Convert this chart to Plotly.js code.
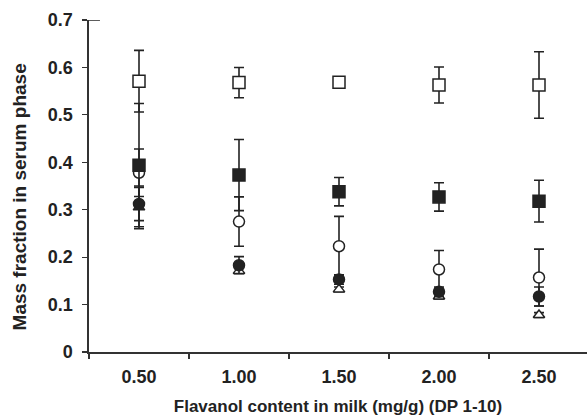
<!DOCTYPE html>
<html>
<head>
<meta charset="utf-8">
<script src="https://cdn.plot.ly/plotly-3.0.1.min.js"></script>
<style>html,body{margin:0;padding:0;background:#fff;}#chart{width:587px;height:418px;}</style>
</head>
<body>
<div id="chart"></div>
<script>
const categories = ['0.50', '1.00', '1.50', '2.00', '2.50'];

const openSquare   = [0.571, 0.568, 0.569, 0.563, 0.563];
const openSquareErr = [0.065, 0.032, 0.0, 0.038, 0.07];

const filledSquare = [0.394, 0.373, 0.338, 0.327, 0.318];
const filledSquareErr = [0.13, 0.075, 0.03, 0.03, 0.044];

const openCircle   = [0.378, 0.275, 0.223, 0.174, 0.157];
const openCircleErr = [0.05, 0.052, 0.063, 0.04, 0.06];

const filledCircle = [0.312, 0.183, 0.153, 0.127, 0.117];
const filledCircleErr = [0.035, 0.018, 0.01, 0.01, 0.02];

const openTriangle = [0.305, 0.171, 0.132, 0.117, 0.078];
const openTriangleErr = [0.045, 0.005, 0.005, 0.005, 0.005];

const xTitle = 'Flavanol content in milk (mg/g) (DP 1-10)';
const yTitle = 'Mass fraction in serum phase';

const ink = '#222222';

function series(y, err, symbol, fill, size) {
  return {
    type: 'scatter', mode: 'markers', x: categories, y: y,
    error_y: {type: 'data', array: err, visible: true, color: ink, thickness: 1.6, width: 5},
    marker: {symbol: symbol, size: size, color: fill, line: {color: ink, width: 1.5}},
    showlegend: false, cliponaxis: false
  };
}

const data = [
  series(openTriangle, openTriangleErr, 'triangle-up', '#ffffff', 10),
  series(filledCircle, filledCircleErr, 'circle', ink, 11),
  series(openCircle, openCircleErr, 'circle', '#ffffff', 11),
  series(filledSquare, filledSquareErr, 'square', ink, 12),
  series(openSquare, openSquareErr, 'square', '#ffffff', 12)
];

const fam = 'Liberation Sans, Arial, sans-serif';
const tickFont = {family: fam, size: 18, color: ink, weight: 'bold'};
const xTitleFont = {family: fam, size: 17, color: ink, weight: 'bold'};
const yTitleFont = {family: fam, size: 19, color: ink, weight: 'bold'};

const layout = {
  width: 587, height: 418,
  margin: {l: 89, r: 0, t: 20, b: 66},
  paper_bgcolor: '#ffffff', plot_bgcolor: '#ffffff',
  xaxis: {
    type: 'category', range: [-0.5, 4.48],
    tickson: 'boundaries', ticks: 'outside', ticklen: 5, tickwidth: 1.2, tickcolor: '#333',
    ticklabelstandoff: 8,
    showline: true, linecolor: '#333', linewidth: 1.6,
    showgrid: false, zeroline: false,
    tickfont: tickFont,
    title: {text: xTitle, font: xTitleFont, standoff: 14},
    automargin: false
  },
  yaxis: {
    range: [0, 0.7], dtick: 0.1, tick0: 0,
    ticks: 'outside', ticklen: 5, tickwidth: 1.2, tickcolor: '#333',
    ticklabelstandoff: 6,
    showline: true, linecolor: '#333', linewidth: 1.6,
    showgrid: false, zeroline: false,
    tickfont: tickFont,
    title: {text: ''},
    automargin: false
  },
  annotations: [
    {text: yTitle, font: yTitleFont, textangle: -90, showarrow: false,
     xref: 'paper', yref: 'paper', x: -0.1396, y: 0.467, xanchor: 'center', yanchor: 'middle'}
  ],
  shapes: [
    {type: 'line', xref: 'paper', yref: 'y', x0: 0, x1: 0.022, y0: 0.7, y1: 0.7,
     line: {color: '#333', width: 1.6}}
  ]
};

Plotly.newPlot('chart', data, layout, {displayModeBar: false, staticPlot: true});
</script>
</body>
</html>
